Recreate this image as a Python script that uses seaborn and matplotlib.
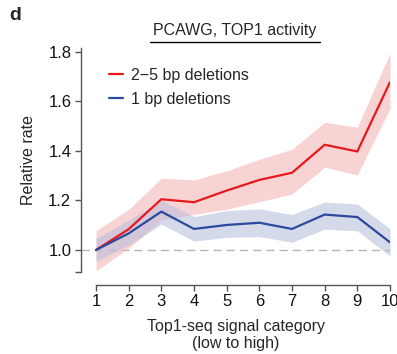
import numpy as np
import pandas as pd
import matplotlib
matplotlib.use("Agg")
import matplotlib.pyplot as plt
import seaborn as sns
from matplotlib.ticker import FixedLocator

categories = [1, 2, 3, 4, 5, 6, 7, 8, 9, 10]
del25_mean = [1.0, 1.084, 1.205, 1.193, 1.240, 1.283, 1.312, 1.425, 1.398, 1.678]
del25_low = [0.916, 1.007, 1.120, 1.144, 1.165, 1.195, 1.226, 1.334, 1.303, 1.572]
del25_high = [1.078, 1.164, 1.290, 1.283, 1.320, 1.366, 1.407, 1.516, 1.496, 1.795]
del1_mean = [1.0, 1.067, 1.155, 1.085, 1.101, 1.110, 1.085, 1.143, 1.133, 1.031]
del1_low = [0.953, 1.020, 1.104, 1.036, 1.051, 1.054, 1.031, 1.084, 1.077, 0.976]
del1_high = [1.047, 1.120, 1.200, 1.135, 1.159, 1.166, 1.143, 1.194, 1.186, 1.086]
series_names = ["2\u22125 bp deletions", "1 bp deletions"]
title = "PCAWG, TOP1 activity"
yticks = [1.0, 1.2, 1.4, 1.6, 1.8]

sns.set_style("ticks")
plt.rcParams["font.family"] = ["Liberation Sans", "DejaVu Sans"]

red = "#e8191c"
blue = "#2b4a9c"
colors = [red, blue]
spine_c = "#555555"

df = pd.DataFrame({
    "category": categories * 2,
    "rate": del25_mean + del1_mean,
    "series": [series_names[0]] * 10 + [series_names[1]] * 10,
})

W, H = 397, 354
fig = plt.figure(figsize=(W / 100, H / 100), dpi=100)
ax = fig.add_axes([81 / W, 1 - 272 / H, (390 - 81) / W, (272 - 48) / H])

ax.fill_between(categories, del25_low, del25_high, color="#f4b6b8", alpha=0.6, lw=0, zorder=1)
ax.fill_between(categories, del1_low, del1_high, color="#b3bcdc", alpha=0.55, lw=0, zorder=1)
ax.axhline(1.0, color="#b5b5b5", lw=1.0, ls=(0, (6, 3.5)), zorder=0.5)

sns.lineplot(data=df, x="category", y="rate", hue="series", palette=colors,
             hue_order=series_names, lw=1.6, ax=ax, zorder=3)

ax.set_xlim(0.54, 10.0)
ax.set_ylim(0.911, 1.816)
ax.set_xticks(categories)
ax.set_yticks(yticks)
ax.set_yticklabels([f"{v:.1f}" for v in yticks])
ax.yaxis.set_minor_locator(FixedLocator([0.911]))
ax.tick_params(axis="y", which="minor", length=4, width=1.0, color=spine_c)
ax.tick_params(axis="both", which="major", length=4, width=1.0, color=spine_c,
               labelsize=12, labelcolor="#111111", pad=3)
ax.tick_params(axis="x", which="major", labelsize=12, pad=3)
ax.spines["left"].set_bounds(0.911, 1.816)
ax.spines["bottom"].set_bounds(1, 10)
ax.spines["bottom"].set_position(("outward", 9))
for s in ["left", "bottom"]:
    ax.spines[s].set_linewidth(1.0)
    ax.spines[s].set_color(spine_c)
sns.despine(ax=ax)

ax.set_xlabel("Top1-seq signal category\n(low to high)", fontsize=11.5, labelpad=7, linespacing=1.2)
ax.set_ylabel("Relative rate", fontsize=11.5, labelpad=9)

leg = ax.legend(loc="upper left", bbox_to_anchor=(0.07, 0.94), frameon=False,
                handlelength=0.9, handletextpad=0.5, fontsize=11.5, labelspacing=0.55,
                borderaxespad=0)
for line in leg.get_lines():
    line.set_linewidth(1.6)

fig.text(235 / W, 1 - 30 / H, title, ha="center", va="center", fontsize=11.5)
fig.add_artist(plt.Line2D([150 / W, 320 / W], [1 - 42 / H, 1 - 42 / H], color="black", lw=1.0))
fig.text(9 / W, 1 - 16 / H, "d", ha="left", va="center", fontsize=14, fontweight="bold")

fig.savefig("out.png", dpi=100)
